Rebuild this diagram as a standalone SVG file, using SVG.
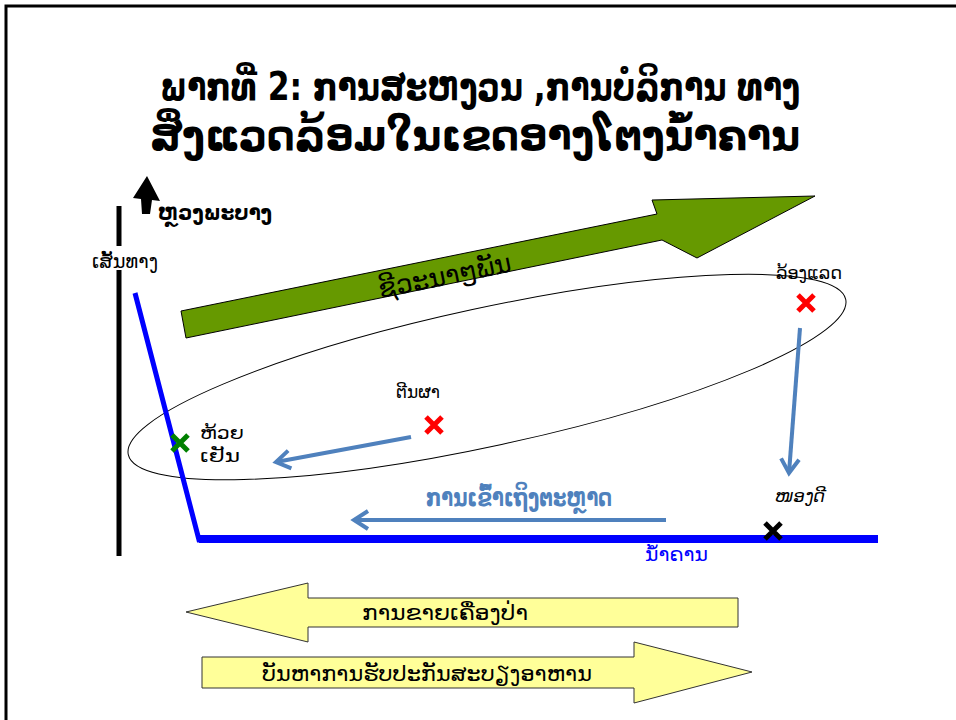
<svg xmlns="http://www.w3.org/2000/svg" width="956" height="720" viewBox="0 0 956 720">
<style>
text{font-family:"DejaVu Sans","Noto Sans",sans-serif;fill:#000}
.title{font-size:39px;font-weight:bold;text-anchor:middle}
.lbl{font-size:18px}
.conn{fill:none;stroke:#4f81bd;stroke-width:4}
.xr{stroke:#ff0000;stroke-width:5;fill:none}
.yel{fill:#ffff99;stroke:#333;stroke-width:1}
</style>
<defs>
<marker id="chev" markerUnits="userSpaceOnUse" markerWidth="24" markerHeight="24" viewBox="0 0 24 24" refX="20" refY="12" orient="auto">
<path d="M6,3 L20,12 L6,21" fill="none" stroke="#4f81bd" stroke-width="4" stroke-linecap="butt"/>
</marker>
</defs>
<rect width="956" height="720" fill="#fff"/>
<path d="M6,722 V6 H958" fill="none" stroke="#000" stroke-width="3"/>

<g id="title">
<text class="title" x="480" y="100" textLength="640" lengthAdjust="spacingAndGlyphs">ພາກທີ່ 2: ການສະຫງວນ ,ການບໍລິການ ທາງ</text>
<text class="title" x="475" y="150" style="font-size:42px" textLength="650" lengthAdjust="spacingAndGlyphs">ສິ່ງແວດລ້ອມໃນເຂດອາງໂຕງນ້ຳຄານ</text>
</g>

<g id="axis">
<line x1="119" y1="206" x2="119" y2="246" stroke="#000" stroke-width="5"/>
<line x1="119" y1="270" x2="119" y2="556" stroke="#000" stroke-width="5"/>
<text x="92" y="268" style="font-size:19px" textLength="66" lengthAdjust="spacingAndGlyphs">ເສັ້ນທາງ</text>
</g>

<g id="north">
<polygon points="142,214 150,214 152,200 160,201 147,176 133,198 141,199" fill="#000"/>
<text x="158" y="220" style="font-size:21px;font-weight:bold" textLength="114" lengthAdjust="spacingAndGlyphs">ຫຼວງພະບາງ</text>
</g>

<g id="biodiversity">
<polygon points="181,311 657,214 652,200 815,196 697,258 662,240 186,338" fill="#669900" stroke="#000" stroke-width="1"/>
<text x="376" y="285" transform="rotate(-11.5 443 270)" style="font-size:26px" textLength="135" lengthAdjust="spacingAndGlyphs">ຊີວະນາໆພັນ</text>
</g>

<g id="zone">
<ellipse cx="487" cy="377" rx="367" ry="69" transform="rotate(-12.2 487 377)" fill="none" stroke="#000" stroke-width="1"/>
</g>

<g id="river">
<polyline points="135,293 199,540 878,540" fill="none" stroke="#0000ff" stroke-width="5"/>
<line x1="199" y1="539" x2="878" y2="539" stroke="#0000ff" stroke-width="8"/>
<text x="645" y="561" style="font-size:19px;fill:#0000ff" textLength="63" lengthAdjust="spacingAndGlyphs">ນ້ຳຄານ</text>
</g>

<g id="connectors">
<line class="conn" x1="800" y1="328" x2="789" y2="473" marker-end="url(#chev)"/>
<line class="conn" x1="411" y1="437" x2="276" y2="462" marker-end="url(#chev)"/>
<line class="conn" x1="666" y1="520" x2="354" y2="520" marker-end="url(#chev)"/>
</g>

<g id="long-aeng">
<text class="lbl" x="776" y="279" textLength="66" lengthAdjust="spacingAndGlyphs">ລ້ອງແລດ</text>
<path class="xr" d="M798,295 L814,311 M814,295 L798,311"/>
</g>

<g id="tin-pha">
<text class="lbl" x="396" y="398" textLength="44" lengthAdjust="spacingAndGlyphs">ຕີນຜາ</text>
<path class="xr" d="M426,417 L442,433 M442,417 L426,433"/>
</g>

<g id="huay-yen">
<text class="lbl" x="200" y="439" textLength="44" lengthAdjust="spacingAndGlyphs">ຫ້ວຍ</text>
<text class="lbl" x="200" y="462" textLength="40" lengthAdjust="spacingAndGlyphs">ເຢັນ</text>
<path d="M172,435 L188,451 M188,435 L172,451" stroke="#008000" stroke-width="5" fill="none"/>
</g>

<g id="nong-di">
<text class="lbl" x="775" y="502" style="font-style:italic" textLength="50" lengthAdjust="spacingAndGlyphs">ໜອງດີ</text>
<path d="M765,523 L781,539 M781,523 L765,539" stroke="#000" stroke-width="5" fill="none"/>
</g>

<g id="market">
<text x="426" y="506" style="font-size:24px;fill:#4f81bd;font-weight:bold" textLength="186" lengthAdjust="spacingAndGlyphs">ການເຂົ້າເຖິງຕະຫຼາດ</text>
</g>

<g id="forest-sales">
<polygon class="yel" points="186,612 308,583 308,598 738,598 738,627 308,627 308,642"/>
<text x="362" y="620" style="font-size:22px" textLength="166" lengthAdjust="spacingAndGlyphs">ການຂາຍເຄື່ອງປ່າ</text>
</g>

<g id="food-security">
<polygon class="yel" points="202,657 634,657 634,642 752,672 634,703 634,688 202,688"/>
<text x="262" y="681" style="font-size:22px" textLength="330" lengthAdjust="spacingAndGlyphs">ບັນຫາການຮັບປະກັນສະບຽງອາຫານ</text>
</g>
</svg>
